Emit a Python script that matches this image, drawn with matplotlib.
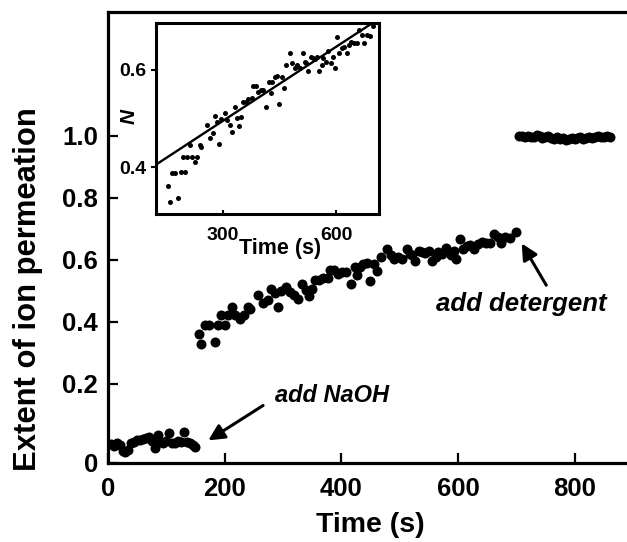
import matplotlib
matplotlib.use('Agg')
import matplotlib.pyplot as plt
import numpy as np

plt.rcParams['font.family'] = ['Liberation Sans', 'DejaVu Sans']
plt.rcParams['font.weight'] = 'bold'

# Datos
# antes de NaOH
t_base = [5, 10, 15, 20, 25, 30, 35, 40, 45, 50, 55, 60, 65, 70, 75,
          80, 85, 90, 95, 100, 105, 110, 115, 120, 125, 130, 135, 140, 145, 150]
y_base = [0.005, 0.000, 0.010, 0.002, -0.015, -0.020, -0.012, 0.008, 0.012, 0.018,
          0.020, 0.022, 0.026, 0.028, 0.015, -0.006, 0.035, 0.012, 0.010, 0.015,
          0.042, 0.010, 0.008, 0.015, 0.012, 0.045, 0.012, 0.010, 0.002, -0.004]

# despues de NaOH (tambien en el recuadro)
t_ramp = [156, 160, 167, 174, 183, 189, 194, 200, 205, 213, 218, 227, 233, 240, 244,
          258, 266, 274, 280, 286, 291, 297, 306, 312, 319, 326, 333, 339, 344, 350,
          355, 362, 368, 377, 381, 388, 394, 401, 408, 416, 423, 427, 432, 438, 445,
          450, 456, 462, 469, 478, 485, 491, 498, 505, 512, 518, 522, 527, 533, 538,
          544, 551, 556, 562, 566, 573, 580, 588, 593, 597, 603, 609, 615, 621, 628,
          635, 641, 648, 655, 662, 668, 674, 681, 690, 699]
y_ramp = [0.362, 0.329, 0.389, 0.389, 0.336, 0.391, 0.422, 0.391, 0.422, 0.446,
          0.422, 0.410, 0.422, 0.446, 0.442, 0.487, 0.460, 0.471, 0.505, 0.494,
          0.447, 0.499, 0.512, 0.497, 0.487, 0.473, 0.523, 0.501, 0.484, 0.504,
          0.535, 0.535, 0.540, 0.542, 0.567, 0.567, 0.555, 0.559, 0.559, 0.523,
          0.576, 0.552, 0.576, 0.586, 0.588, 0.531, 0.586, 0.562, 0.610, 0.634,
          0.614, 0.603, 0.610, 0.603, 0.634, 0.617, 0.614, 0.597, 0.627, 0.624,
          0.622, 0.627, 0.597, 0.610, 0.624, 0.617, 0.638, 0.614, 0.627, 0.603,
          0.667, 0.634, 0.645, 0.648, 0.634, 0.651, 0.658, 0.655, 0.655, 0.682,
          0.672, 0.655, 0.672, 0.669, 0.690]

# despues del detergente
t_det = [705, 710, 715, 720, 725, 730, 735, 740, 745, 750, 755, 760, 765, 770, 775, 780,
         785, 790, 795, 800, 805, 810, 815, 820, 825, 830, 835, 840, 845, 850, 855, 860]
y_det = [1.000, 0.997, 0.995, 0.998, 0.996, 0.994, 1.002, 0.997, 0.993, 0.996, 0.998,
         0.992, 0.990, 0.994, 0.988, 0.992, 0.987, 0.990, 0.993, 0.989, 0.991, 0.994,
         0.990, 0.993, 0.996, 0.992, 0.995, 0.997, 0.994, 0.996, 0.998, 0.995]

# ajuste lineal del recuadro
fit_slope = 0.000508
fit_intercept = 0.3425

x_ticks = [0, 200, 400, 600, 800]
y_ticks = [0.2, 0.4, 0.6, 0.8, 1.0]
y_bottom = -0.055

fig = plt.figure(figsize=(6.27, 5.42), dpi=100)
ax = fig.add_axes([0.1722, 0.1458, 0.8278, 0.8321])

ax.plot(t_base, y_base, 'o', color='black', markersize=7.2, markeredgewidth=0)
ax.plot(t_ramp, y_ramp, 'o', color='black', markersize=7.2, markeredgewidth=0)
ax.plot(t_det, y_det, 'o', color='black', markersize=7.2, markeredgewidth=0)

ax.set_xlim(0, 890)
ax.set_ylim(y_bottom, 1.398)
ax.set_xticks(x_ticks)
ax.set_xticklabels([str(v) for v in x_ticks])
ax.set_yticks([y_bottom] + y_ticks)
ax.set_yticklabels(['0'] + ['%.1f' % v for v in y_ticks])
ax.tick_params(axis='both', direction='in', length=7.5, width=1.6, labelsize=18.5)
ax.tick_params(axis='x', pad=10)
ax.tick_params(axis='y', pad=7)
for lab in ax.get_xticklabels() + ax.get_yticklabels():
    lab.set_fontweight('bold')

for s in ['left', 'bottom', 'top']:
    ax.spines[s].set_linewidth(2.3)
ax.spines['right'].set_visible(False)

ax.set_xlabel('Time (s)', fontsize=20.5, fontweight='bold', va='center')
ax.xaxis.set_label_coords(0.505, -0.137)
ax.set_ylabel('Extent of ion permeation', fontsize=22.3, fontweight='bold', va='center')
ax.yaxis.set_label_coords(-0.154, 0.385)

# Flechas
ax.annotate('', xy=(168, 0.013), xytext=(270, 0.135),
            arrowprops=dict(arrowstyle='-|>', color='black', lw=2.2, mutation_scale=24))
ax.text(384, 0.161, 'add NaOH', fontsize=17, fontweight='bold', style='italic',
        ha='center', va='center')
ax.annotate('', xy=(707, 0.66), xytext=(754, 0.51),
            arrowprops=dict(arrowstyle='-|>', color='black', lw=2.2, mutation_scale=24))
ax.text(709, 0.457, 'add detergent', fontsize=18.5, fontweight='bold', style='italic',
        ha='center', va='center')

# Recuadro
ax_in = fig.add_axes([0.2483, 0.6052, 0.3562, 0.3529])
ax_in.plot(t_ramp, y_ramp, 'o', color='black', markersize=3.6, markeredgewidth=0)
t_fit = np.array([100, 750])
ax_in.plot(t_fit, fit_intercept + fit_slope * t_fit, color='black', lw=1.7)
ax_in.set_xlim(123, 714)
ax_in.set_ylim(0.304, 0.697)
ax_in.set_xticks([300, 600])
ax_in.set_yticks([0.4, 0.6])
ax_in.set_yticklabels(['0.4', '0.6'])
ax_in.tick_params(axis='x', direction='in', length=3, width=1.5, labelsize=14, pad=9.5)
ax_in.tick_params(axis='y', direction='out', length=3.5, width=1.5, labelsize=14, pad=3)
for lab in ax_in.get_xticklabels() + ax_in.get_yticklabels():
    lab.set_fontweight('bold')
for s in ax_in.spines.values():
    s.set_linewidth(2.2)
ax_in.set_xlabel('Time (s)', fontsize=15.5, fontweight='bold', va='center')
ax_in.xaxis.set_label_coords(0.557, -0.178)
ax_in.set_ylabel('N', fontsize=15, fontweight='bold', style='italic', va='center')
ax_in.yaxis.set_label_coords(-0.118, 0.512)

fig.savefig('out.png', dpi=100)
